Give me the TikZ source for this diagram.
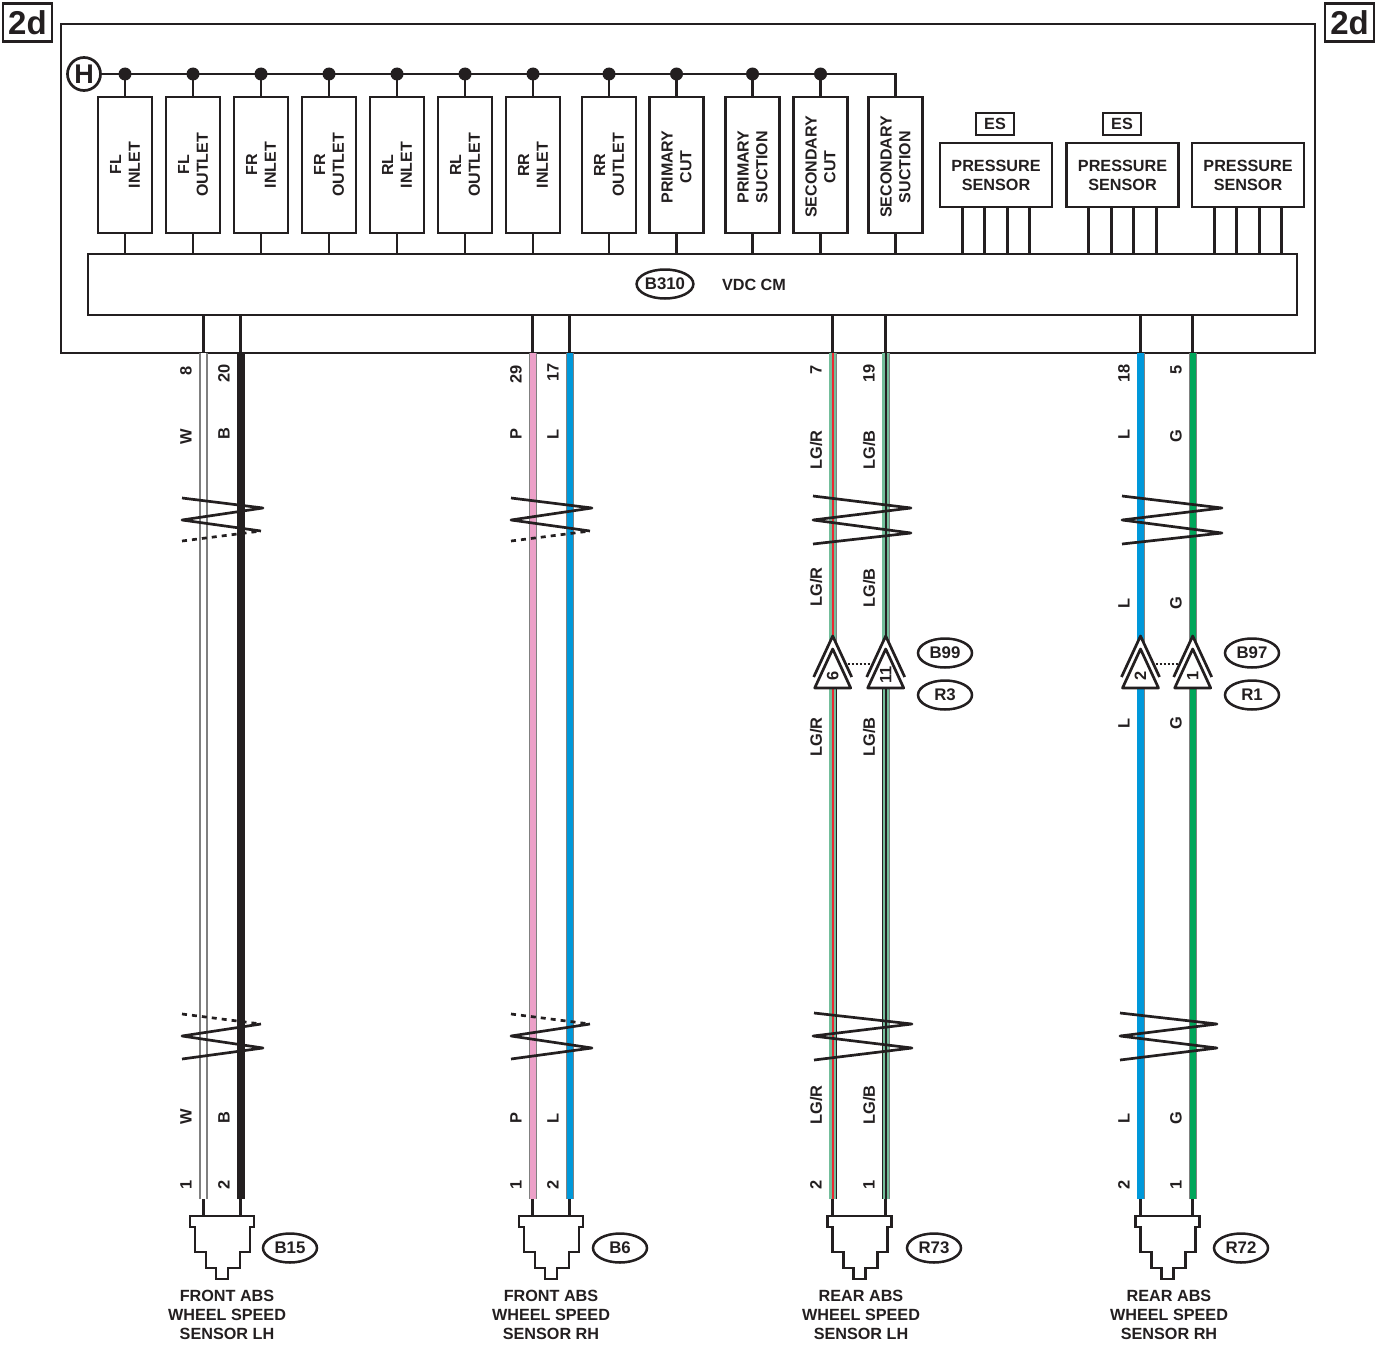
\documentclass[tikz,border=0pt]{standalone}
\usepackage{fontspec}
\setmainfont{Liberation Sans}
\usepackage{tikz}
\usetikzlibrary{calc}
\usetikzlibrary{shapes.geometric}
\definecolor{ink}{RGB}{35,31,32}
\definecolor{wireblue}{RGB}{0,152,218}
\definecolor{wiregreen}{RGB}{0,166,90}
\definecolor{wirepink}{RGB}{236,160,200}
\definecolor{wirelg}{RGB}{115,190,155}
\definecolor{wirered}{RGB}{237,40,50}
\begin{document}
\begin{tikzpicture}
[x=1pt,y=-1pt,line join=miter,
  every node/.style={text=ink,font=\fontsize{16.2}{19}\selectfont\bfseries},%
  boxdecorate/.style={shape=rectangle,draw=ink,line width=2.7pt,inner sep=0pt,align=center,fill=white},%
  valvedecorate/.style={boxdecorate,minimum width=54pt,minimum height=136pt},%
  valvetext/.style={rotate=90,inner sep=0pt,align=center,font=\fontsize{16}{18.7}\selectfont\bfseries},%
  sensordecorate/.style={boxdecorate,minimum width=112pt,minimum height=64pt},%
  ovaldecorate/.style={shape=ellipse,draw=ink,line width=2.5pt,inner sep=0pt,minimum width=54pt,minimum height=29pt,fill=white,font=\fontsize{16.8}{19}\selectfont\bfseries},%
  linedecorate/.style={-,draw=ink,line width=2.7pt},%
  labeldecorate/.style={rotate=90,inner sep=0pt,font=\fontsize{16.4}{18}\selectfont\bfseries},%
  breakdecorate/.style={draw=ink,line width=2.7pt,line join=round},%
  W/.style={draw=gray,double=white,double distance=5.8pt,line width=1.2pt},%
  B/.style={draw=ink,line width=8pt},%
  P/.style={draw=gray,double=wirepink,double distance=6.2pt,line width=.9pt},%
  L/.style={draw=gray,double=wireblue,double distance=6.2pt,line width=.9pt},%
  G/.style={draw=gray,double=wiregreen,double distance=6.2pt,line width=.9pt},%
  LG/.style={draw=gray,double=wirelg,double distance=6.6pt,line width=.9pt}]
\useasboundingbox (0,0) rectangle (1384,1346);
%% outer frame and control module
\draw[draw=ink,line width=2.9pt] (61,24) rectangle (1315,353);
\node (cm) at (692.5,284.5) [boxdecorate,minimum width=1209pt,minimum height=61pt] {};
\node (cmname) at (754,285) {VDC CM};
\node (b310) at (665,284) [ovaldecorate] {B310};
\foreach \nodename/\x in {tagl/27.5, tagr/1349.5}
{
  \node (\nodename) at (\x,22.5) [boxdecorate,minimum width=49pt,minimum height=38pt,font=\fontsize{33}{33}\selectfont\bfseries] {2d};
}
%% valves and power bus
\node (H) at (84,74) [shape=circle,draw=ink,line width=2.7pt,inner sep=0pt,minimum size=33pt,fill=white,font=\fontsize{27}{27}\selectfont\bfseries] {H};
\foreach \nodename/\x/\y/\name in {v1/125/165/FL\\INLET, v2/193/165/FL\\OUTLET, v3/261/165/FR\\INLET,
  v4/329/165/FR\\OUTLET, v5/397/165/RL\\INLET, v6/465/165/RL\\OUTLET, v7/533/165/RR\\INLET,
  v8/609/165/RR\\OUTLET, v9/676.5/167/PRIMARY\\CUT, v10/752.5/167/PRIMARY\\SUCTION,
  v11/820.5/167/SECONDARY\\CUT, v12/895.5/167/SECONDARY\\SUCTION}
{
  \node (\nodename) at (\x,165) [valvedecorate] {};
  \node (\nodename text) at (\x,\y) [valvetext] {\name};
  \draw[linedecorate] (\nodename.south) -- (\nodename.south |- cm.north);
}
\draw[linedecorate] (H) -| (v12.north);
\foreach \nodename in {v1,v2,v3,v4,v5,v6,v7,v8,v9,v10,v11}
{
  \fill[ink] (\nodename.north |- H) circle (6.5pt);
  \draw[linedecorate] (\nodename.north |- H) -- (\nodename.north);
}
%% pressure sensors
\foreach \nodename/\x in {s1/996, s2/1122.5, s3/1248}
{
  \node (\nodename) at (\x,175) [sensordecorate] {PRESSURE\\SENSOR};
  \foreach \dx in {-33.75,-11.25,11.25,33.75}
  {
    \draw[linedecorate] ($(\nodename.south)+(\dx,0)$) -- ($(\nodename.south |- cm.north)+(\dx,0)$);
  }
}
\foreach \nodename/\x in {es1/995, es2/1122}
{
  \node (\nodename) at (\x,124) [boxdecorate,minimum width=38pt,minimum height=22pt] {ES};
}
%% wires
\foreach \nodename/\x/\wirestyle/\stripe in {w1/203.5/W/white, w2/240.7/B/ink, w3/532.7/P/wirepink,
  w4/569.7/L/wireblue, w5/832.7/LG/wirered, w6/885.7/LG/ink, w7/1140.5/L/wireblue, w8/1192.7/G/wiregreen}
{
  \coordinate (\nodename a) at (\x,315);
  \coordinate (\nodename b) at (\x,353);
  \coordinate (\nodename c) at (\x,1199);
  \coordinate (\nodename d) at (\x,1216);
  \draw[linedecorate] (\nodename a) -- (\nodename b);
  \draw[linedecorate] (\nodename c) -- (\nodename d);
  \draw[\wirestyle] (\nodename b) -- (\nodename c);
  \draw[draw=\stripe,line width=2pt] (\nodename b) -- (\nodename c);
}
\foreach \x in {836.2, 882.3}
{
  \draw[draw=ink,line width=1.3pt] (\x,688) -- (\x,1199);
}
%% wire labels
\foreach \x/\y/\name in {186/371/8, 224/373/20, 186/437/W, 224/434/B, 186/1117/W, 224/1118/B, 186/1185/1, 224/1185/2,
  516/374/29, 553/372/17, 516/434/P, 553/434/L, 516/1118/P, 553/1118/L, 516/1185/1, 553/1185/2,
  816/370/7, 869/373/19, 816/450/LG\slash R, 869/450/LG\slash B, 816/587/LG\slash R, 869/588/LG\slash B,
  816/737/LG\slash R, 869/737/LG\slash B, 816/1105/LG\slash R, 869/1105/LG\slash B, 816/1185/2, 869/1185/1,
  1124/373/18, 1176/370/5, 1124/434/L, 1176/436/G, 1124/603/L, 1176/603/G, 1124/723/L, 1176/723/G,
  1124/1118/L, 1176/1118/G, 1124/1185/2, 1176/1185/1}
{
  \node (lab\x-\y) at (\x,\y) [labeldecorate] {\name};
}
%% wire breaks
\draw[breakdecorate] (182,498) -- (263,508) -- (182,520) -- (261,531);
\draw[breakdecorate,dash pattern=on 5pt off 5pt] (182,541) -- (261,531);
\draw[breakdecorate] (261,1024) -- (182,1036) -- (263,1048) -- (182,1059);
\draw[breakdecorate,dash pattern=on 5pt off 5pt] (182,1014) -- (261,1024);
\draw[breakdecorate] (511,498) -- (592,508) -- (511,520) -- (590,531);
\draw[breakdecorate,dash pattern=on 5pt off 5pt] (511,541) -- (590,531);
\draw[breakdecorate] (590,1024) -- (511,1036) -- (592,1048) -- (511,1059);
\draw[breakdecorate,dash pattern=on 5pt off 5pt] (511,1014) -- (590,1024);
\draw[breakdecorate] (813,496) -- (911,508) -- (813,520) -- (911,533) -- (813,544);
\draw[breakdecorate] (814,1013) -- (912,1024) -- (813,1036) -- (912,1048) -- (814,1060);
\draw[breakdecorate] (1122,496) -- (1222,508) -- (1122,520) -- (1222,533) -- (1122,544);
\draw[breakdecorate] (1120,1013) -- (1217,1024) -- (1120,1036) -- (1217,1048) -- (1120,1060);
%% splice triangles
\foreach \nodename/\x/\y/\name in {t6/832.7/676/6, t11/885.7/675/11, t2/1140.5/676/2, t1/1192.7/676/1}
{
  \fill[white] ({\x-19},677) -- (\x,636) -- ({\x+19},677) -- cycle;
  \draw[draw=ink,line width=2.7pt,fill=white,line join=round] ({\x-18},688) -- (\x,649) -- ({\x+18},688) -- cycle;
  \draw[draw=ink,line width=2.7pt,line join=round] ({\x-19},677) -- (\x,636) -- ({\x+19},677);
  \node (\nodename) at (\x,\y) [labeldecorate] {\name};
  \coordinate (\nodename l) at ({\x-15},664);
  \coordinate (\nodename r) at ({\x+15},664);
}
\draw[draw=ink,line width=1.6pt,dash pattern=on 2pt off 2pt] (t6r) -- (t11l);
\draw[draw=ink,line width=1.6pt,dash pattern=on 2pt off 2pt] (t2r) -- (t1l);
%% sensors with their plugs
\foreach \x in {222,551,859.5,1167.5}
{
  \draw[draw=ink,line width=2.7pt,fill=white] ({\x-32},1216) -- ({\x+32},1216) -- ({\x+32},1227) -- ({\x+28},1227)
    -- ({\x+28},1252) -- ({\x+18},1252) -- ({\x+18},1268) -- ({\x+6},1268) -- ({\x+6},1279) -- ({\x-6},1279)
    -- ({\x-6},1268) -- ({\x-16},1268) -- ({\x-16},1252) -- ({\x-27},1252) -- ({\x-27},1227) -- ({\x-32},1227) -- cycle;
}
\foreach \nodename/\x/\name in {n1/227/FRONT ABS\\WHEEL SPEED\\SENSOR LH, n2/551/FRONT ABS\\WHEEL SPEED\\SENSOR RH,
  n3/861/REAR ABS\\WHEEL SPEED\\SENSOR LH, n4/1169/REAR ABS\\WHEEL SPEED\\SENSOR RH}
{
  \node (\nodename) at (\x,1315) [align=center,inner sep=0pt] {\name};
}
%% connector tags
\foreach \nodename/\x/\y in {B99/945/653, R3/945/695, B97/1252/653, R1/1252/695, B15/290/1248, B6/620/1248, R73/934/1248, R72/1241/1248}
{
  \node (\nodename) at (\x,\y) [ovaldecorate] {\nodename};
}
\end{tikzpicture}
\end{document}
